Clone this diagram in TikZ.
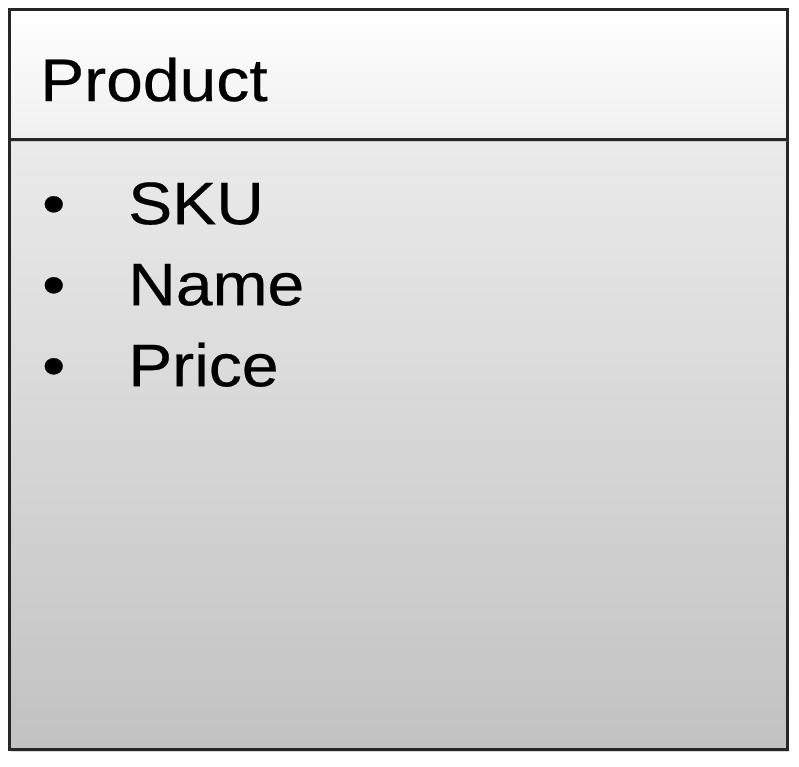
\documentclass[tikz,border=0pt]{standalone}
\usepackage{fontspec}
\setmainfont[FakeStretch=1.1, FakeBold=0.4]{Liberation Sans}
\usepackage{xcolor}
\usetikzlibrary{matrix, shadows}

\tikzset{
  classbox/.style={draw=black!85, line width=2.5pt, inner sep=0pt,
    minimum width=778pt, anchor=north west,
    drop shadow={shadow xshift=2pt, shadow yshift=-3pt, opacity=0.3}},
  bigtext/.style={font=\fontsize{60}{72}\selectfont}
}

\begin{document}
\begin{tikzpicture}[x=1pt, y=-1pt]
  \useasboundingbox (0,0) rectangle (799,766);
  \node (body) [classbox, minimum height=610pt,
      top color=gray!16, bottom color=gray!48] at (8,138) {};
  \node (head) [classbox, minimum height=130pt,
      top color=white, bottom color=gray!12] at (8,8) {};
  \node (title) [bigtext, anchor=base west, inner sep=0pt] at (40,101) {Product};
  \matrix (attrs) [
      matrix of nodes, row sep=0pt, column sep=0pt,
      anchor=north west, inner sep=0pt,
      nodes={bigtext, inner sep=0pt, anchor=base west,
        text height=49pt, text depth=32pt},
      column 1/.style={nodes={text width=86pt}}
  ] at (42,175) {
    \textbullet & SKU \\
    \textbullet & Name \\
    \textbullet & Price \\
  };
\end{tikzpicture}
\end{document}
